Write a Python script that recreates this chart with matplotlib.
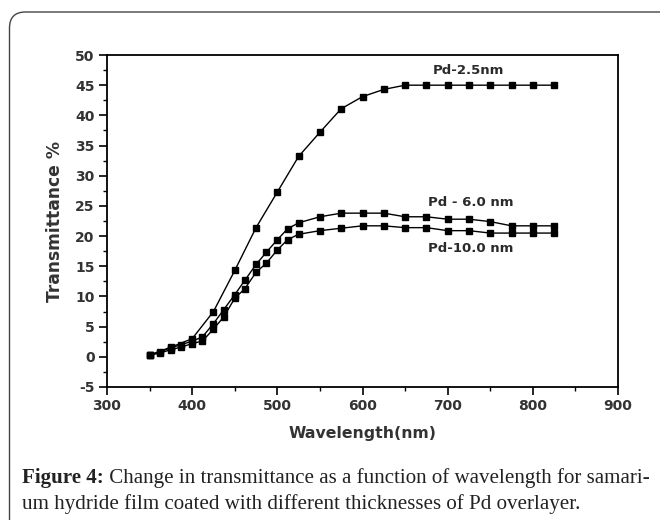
import matplotlib
matplotlib.use("Agg")
import matplotlib.pyplot as plt
import matplotlib.patches as mpatches
from matplotlib.transforms import IdentityTransform
from matplotlib.ticker import MultipleLocator

plt.rcParams["axes.unicode_minus"] = False

# ---- data ----
wl_25 = [350, 375, 400, 425, 450, 475, 500, 525, 550, 575, 600, 625,
         650, 675, 700, 725, 750, 775, 800, 825]
t_25 = [0.3, 1.6, 3.0, 7.5, 14.3, 21.4, 27.3, 33.2, 37.2, 41.1, 43.1, 44.3,
        45.0, 45.0, 45.0, 45.0, 45.0, 45.0, 45.0, 45.0]

wl_thick = [350, 362, 375, 387, 400, 412, 425, 437, 450, 462, 475, 487, 500,
            512, 525, 550, 575, 600, 625, 650, 675, 700, 725, 750, 775, 800, 825]
t_60 = [0.3, 0.8, 1.5, 2.0, 2.6, 3.3, 5.5, 7.8, 10.3, 12.7, 15.3, 17.3, 19.4,
        21.2, 22.2, 23.2, 23.8, 23.8, 23.8, 23.2, 23.2, 22.8, 22.8, 22.4, 21.7, 21.7, 21.7]
t_100 = [0.3, 0.6, 1.2, 1.6, 2.2, 2.6, 4.6, 6.6, 9.7, 11.3, 14.0, 15.5, 17.7,
         19.4, 20.3, 20.9, 21.3, 21.7, 21.7, 21.4, 21.4, 20.9, 20.9, 20.5, 20.5, 20.5, 20.5]

labels = ["Pd-2.5nm", "Pd - 6.0 nm", "Pd-10.0 nm"]
label_pos = [(724, 47.5), (727, 25.5), (727, 17.9)]

x_ticks = [300, 400, 500, 600, 700, 800, 900]
y_ticks = [-5, 0, 5, 10, 15, 20, 25, 30, 35, 40, 45, 50]

caption_bold = "Figure 4:"
caption_line1 = " Change in transmittance as a function of wavelength for samari-"
caption_line2 = "um hydride film coated with different thicknesses of Pd overlayer."

# ---- figure ----
W, H = 660, 520
fig = plt.figure(figsize=(W / 100, H / 100), dpi=100)
fig.patch.set_facecolor("white")

ax = fig.add_axes([107 / W, 1 - 387 / H, (618 - 107) / W, (387 - 55) / H])

ax.plot(wl_25, t_25, color="black", lw=1.0, marker="s", ms=4.3, mfc="black", mec="black")
for y in (t_60, t_100):
    ax.plot(wl_thick, y, color="black", lw=1.0, marker="s", ms=4.3, mfc="black", mec="black")

for txt, (x, y) in zip(labels, label_pos):
    ax.text(x, y, txt, ha="center", va="center", fontsize=9.5, fontweight="bold",
            family="DejaVu Sans", color="#2a2a2a")

ax.set_xlim(300, 900)
ax.set_ylim(-5, 50)
ax.set_xticks(x_ticks)
ax.set_yticks(y_ticks)
ax.xaxis.set_minor_locator(MultipleLocator(50))
ax.yaxis.set_minor_locator(MultipleLocator(2.5))
ax.tick_params(which="major", direction="out", length=6, width=1.2, color="black",
               labelsize=10, labelcolor="#333333", pad=3)
ax.tick_params(which="minor", direction="out", length=3, width=1.0, color="black")
for lab in ax.get_xticklabels() + ax.get_yticklabels():
    lab.set_fontweight("bold")
    lab.set_family("DejaVu Sans")
for s in ax.spines.values():
    s.set_linewidth(1.3)
    s.set_color("black")

ax.set_ylabel("Transmittance %", fontsize=12.3, fontweight="bold", color="#333333",
              family="DejaVu Sans", labelpad=8)
ax.set_xlabel("Wavelength(nm)", fontsize=11.3, fontweight="bold", color="#333333",
              family="DejaVu Sans", labelpad=9)

# border
border = mpatches.FancyBboxPatch((9.5, -30), 680, 508 + 30, boxstyle="round,pad=0,rounding_size=16",
                                 transform=IdentityTransform(), fill=False,
                                 edgecolor="#444444", lw=1.0)
fig.patches.append(border)

# caption
fig.canvas.draw()
r = fig.canvas.get_renderer()
target_w = 648 - 22
fs = 13
tb = fig.text(22 / W, 1 - 483 / H, caption_bold, fontsize=fs, fontweight="bold",
              family="Liberation Serif", color="#222222", va="baseline")
t1 = fig.text(0, 1 - 483 / H, caption_line1, fontsize=fs,
              family="Liberation Serif", color="#222222", va="baseline")
wb = tb.get_window_extent(r).width
w1 = t1.get_window_extent(r).width
fs = fs * target_w / (wb + w1)
tb.set_fontsize(fs)
t1.set_fontsize(fs)
wb = tb.get_window_extent(r).width
t1.set_x((22 + wb) / W)
fig.text(22 / W, 1 - 509 / H, caption_line2, fontsize=fs,
         family="Liberation Serif", color="#222222", va="baseline")

fig.savefig("out.png", dpi=100)
